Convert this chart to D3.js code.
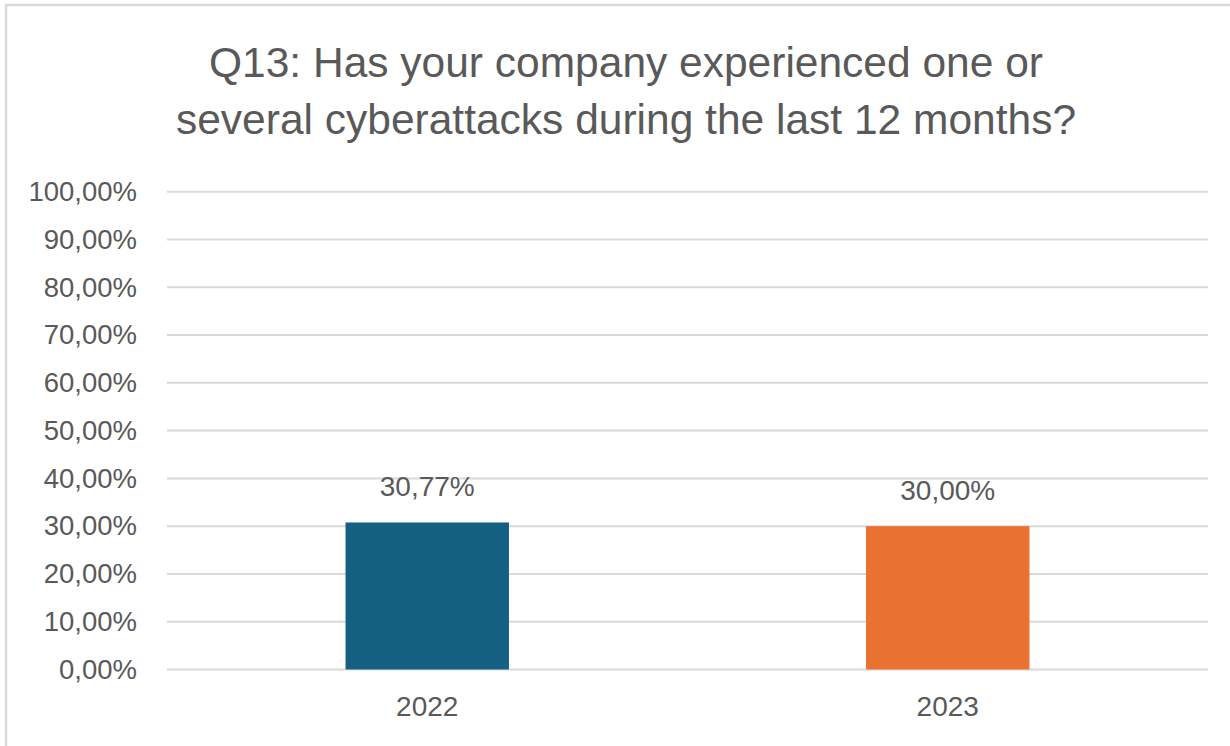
<!DOCTYPE html>
<html>
<head>
<meta charset="utf-8">
<script src="https://cdn.jsdelivr.net/npm/d3@7"></script>
<style>
  body { margin: 0; background: #fff; }
  text { font-family: "Liberation Sans", Arial, sans-serif; fill: #595959; }
</style>
</head>
<body>
<div id="chart"></div>
<script>
// Q13 survey chart - share of companies reporting cyberattacks, by year

const years = ['2022', '2023'];
const shares = [0.3077, 0.30];
const barColors = ['#156082', '#E97132'];
const yTicks = [0, 0.1, 0.2, 0.3, 0.4, 0.5, 0.6, 0.7, 0.8, 0.9, 1.0];
const titleLines = [
  'Q13: Has your company experienced one or',
  'several cyberattacks during the last 12 months?'
];

const W = 1230, H = 746;
const plot = { left: 167, right: 1208, top: 191.7, bottom: 669.5 };

const svg = d3.select('#chart').append('svg')
  .attr('width', W).attr('height', H);

// outer chart frame (runs off the right / bottom edge like the screenshot)
svg.append('rect')
  .attr('x', 6).attr('y', 5)
  .attr('width', W).attr('height', H)
  .attr('fill', '#fff').attr('stroke', '#d9d9d9').attr('stroke-width', 2.5);

const x = d3.scaleBand().domain(years)
  .range([plot.left, plot.right])
  .paddingInner(0.686).paddingOuter(0.343);
const y = d3.scaleLinear().domain([0, 1]).range([plot.bottom, plot.top]);

const fmt = v => d3.format('.2f')(v * 100).replace('.', ',') + '%';

// gridlines
svg.append('g').selectAll('line').data(yTicks).join('line')
  .attr('x1', plot.left).attr('x2', plot.right)
  .attr('y1', d => y(d)).attr('y2', d => y(d))
  .attr('stroke', '#d9d9d9').attr('stroke-width', 2);

// y axis labels
const yAxis = d3.axisLeft(y).tickValues(yTicks).tickFormat(fmt).tickSize(0).tickPadding(0);
svg.append('g').attr('transform', 'translate(137,0)').call(yAxis)
  .call(g => g.select('.domain').remove())
  .selectAll('text')
  .attr('font-size', 27.5).attr('fill', '#595959')
  .style('font-family', '"Liberation Sans", Arial, sans-serif');

// x axis labels
const xAxis = d3.axisBottom(x).tickSize(0).tickPadding(0);
svg.append('g').attr('transform', `translate(0,${plot.bottom + 27})`).call(xAxis)
  .call(g => g.select('.domain').remove())
  .selectAll('text')
  .attr('font-size', 28).attr('fill', '#595959')
  .style('font-family', '"Liberation Sans", Arial, sans-serif');

// bars
svg.append('g').selectAll('rect').data(years).join('rect')
  .attr('x', d => x(d))
  .attr('width', x.bandwidth())
  .attr('y', (d, i) => y(shares[i]))
  .attr('height', (d, i) => y(0) - y(shares[i]))
  .attr('fill', (d, i) => barColors[i]);

// value labels
svg.append('g').selectAll('text').data(years).join('text')
  .attr('x', d => x(d) + x.bandwidth() / 2)
  .attr('y', (d, i) => y(shares[i]) - 26)
  .attr('text-anchor', 'middle')
  .attr('font-size', 28)
  .text((d, i) => fmt(shares[i]));

// title
svg.append('g').selectAll('text').data(titleLines).join('text')
  .attr('x', 626)
  .attr('y', (d, i) => 77 + i * 57)
  .attr('text-anchor', 'middle')
  .attr('font-size', 42.5)
  .text(d => d);
</script>
</body>
</html>
